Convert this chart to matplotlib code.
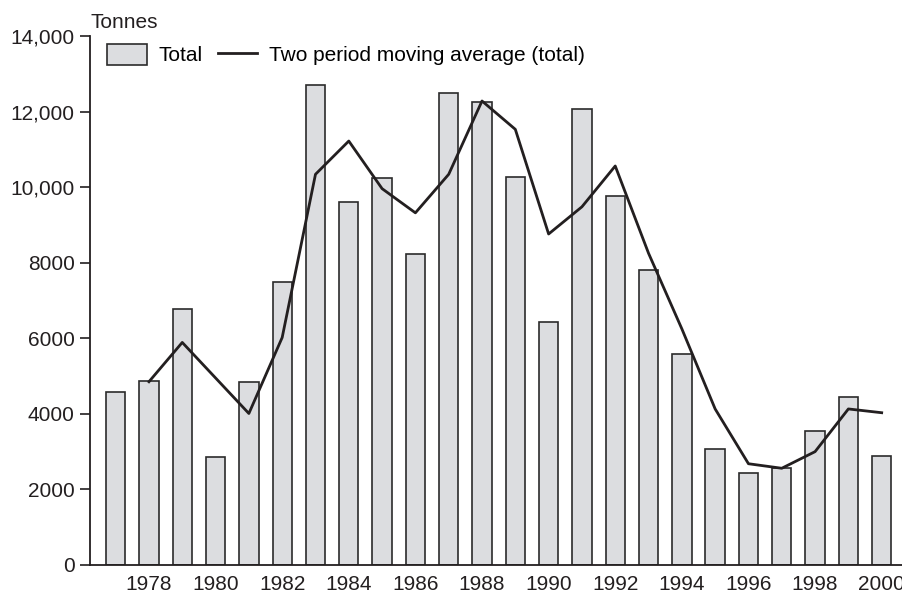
import matplotlib
matplotlib.use("Agg")
import matplotlib.pyplot as plt
from matplotlib.ticker import FuncFormatter

# values (tonnes)
years = list(range(1977, 2001))
totals = [4590, 4870, 6770, 2860, 4830, 7480, 12700, 9600, 10240, 8240,
          12490, 12250, 10270, 6440, 12060, 9770, 7800, 5580, 3080, 2430,
          2580, 3540, 4450, 2890]

ma_years = list(range(1978, 2001))
moving_avg = [4850, 5890, 4950, 4010, 6020, 10340, 11220, 9960, 9320, 10340,
              12280, 11530, 8760, 9480, 10560, 8250, 6250, 4130, 2680, 2560,
              3000, 4130, 4030]

xtick_years = list(range(1978, 2001, 2))
yticks = [0, 2000, 4000, 6000, 8000, 10000, 12000, 14000]

plt.rcParams['font.family'] = ['Liberation Sans', 'DejaVu Sans']
FS = 15

fig = plt.figure(figsize=(9.03, 5.94), dpi=100)
ax = fig.add_axes([90 / 903, 1 - 565 / 594, 1 - 90 / 903, (565 - 36) / 594])

bars = ax.bar(years, totals, width=0.58, color='#dcdde0', edgecolor='#2b2b2b',
              linewidth=1.2, label='Total', zorder=2)
line, = ax.plot(ma_years, moving_avg, color='#231f20', linewidth=2.0,
                label='Two period moving average (total)', zorder=3)

ax.set_xlim(1976.23, 2000.64)
ax.set_ylim(0, 14000)

ax.set_xticks(xtick_years)
ax.set_yticks(yticks)


def fmt(v, pos):
    v = int(v)
    return f'{v:,}' if v >= 10000 else str(v)


ax.yaxis.set_major_formatter(FuncFormatter(fmt))
ax.tick_params(axis='x', length=0, pad=7, labelsize=FS, colors='#231f20')
ax.tick_params(axis='y', length=7, width=1.2, pad=4, labelsize=FS,
               direction='out', colors='#231f20')

for side in ['top', 'right']:
    ax.spines[side].set_visible(False)
for side in ['left', 'bottom']:
    ax.spines[side].set_linewidth(1.3)
    ax.spines[side].set_color('#231f20')

fig.text(91 / 903, 1 - 23 / 594, 'Tonnes', fontsize=FS, ha='left',
         va='center', color='#231f20')

ax.legend(handles=[bars, line], loc='upper left',
          bbox_to_anchor=(107 / 903, 1 - 44 / 594),
          bbox_transform=fig.transFigure, ncol=2, frameon=False,
          fontsize=FS, borderpad=0, borderaxespad=0, handlelength=1.9,
          handleheight=1.15, handletextpad=0.55, columnspacing=0.75)

fig.savefig('out.png', dpi=100)
